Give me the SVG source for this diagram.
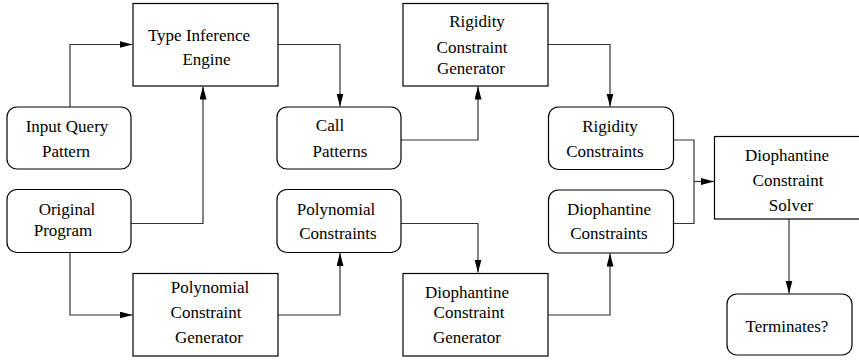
<svg xmlns="http://www.w3.org/2000/svg" width="859" height="360" viewBox="0 0 859 360" font-family="'Liberation Serif', 'DejaVu Serif', serif" font-size="17">
<style>
.box{fill:#fff;stroke:#000;stroke-width:1.2}
.c{fill:none;stroke:#333;stroke-width:1.2}
.t{font-family:'Liberation Serif','DejaVu Serif',serif;font-size:17px;fill:#000;text-anchor:middle}
</style>
<defs>
<marker id="ah" markerUnits="userSpaceOnUse" markerWidth="14" markerHeight="8" refX="13" refY="3.5" orient="auto">
<path d="M0,0 L13,3.5 L0,7 z" fill="#000"/>
</marker>
</defs>
<rect width="859" height="360" fill="#fff"/>
<g id="connectors">
<path class="c" d="M70,107 V44.5 H132.5" marker-end="url(#ah)"/>
<path class="c" d="M131,223.5 H203 V86.5" marker-end="url(#ah)"/>
<path class="c" d="M70,253 V315 H132.5" marker-end="url(#ah)"/>
<path class="c" d="M278,44.5 H340 V106.5" marker-end="url(#ah)"/>
<path class="c" d="M401,140 H478 V86.5" marker-end="url(#ah)"/>
<path class="c" d="M278,315 H340 V253" marker-end="url(#ah)"/>
<path class="c" d="M401,223.5 H478 V272.5" marker-end="url(#ah)"/>
<path class="c" d="M548,44.5 H610 V106.5" marker-end="url(#ah)"/>
<path class="c" d="M548,315 H610 V253.5" marker-end="url(#ah)"/>
<path class="c" d="M673.5,140 H694 V223.5 H673.5"/>
<path class="c" d="M694,181.5 H714" marker-end="url(#ah)"/>
<path class="c" d="M789,219 V293.5" marker-end="url(#ah)"/>
</g>
<g id="type-inference-engine">
<rect class="box" x="133" y="3.5" width="145" height="82.5"/>
<text class="t" x="199" y="41">Type Inference</text>
<text class="t" x="206.5" y="65">Engine</text>
</g>
<g id="rigidity-constraint-generator">
<rect class="box" x="403" y="3.5" width="145" height="82.5"/>
<text class="t" x="477" y="27">Rigidity</text>
<text class="t" x="472" y="53">Constraint</text>
<text class="t" x="471" y="74">Generator</text>
</g>
<g id="polynomial-constraint-generator">
<rect class="box" x="133" y="273.5" width="145" height="82.5"/>
<text class="t" x="210" y="293">Polynomial</text>
<text class="t" x="206" y="318">Constraint</text>
<text class="t" x="209" y="343">Generator</text>
</g>
<g id="diophantine-constraint-generator">
<rect class="box" x="403" y="273.5" width="145" height="82.5"/>
<text class="t" x="467" y="298">Diophantine</text>
<text class="t" x="469" y="318">Constraint</text>
<text class="t" x="467" y="343">Generator</text>
</g>
<g id="diophantine-constraint-solver">
<rect class="box" x="714.5" y="136.5" width="146" height="82.5"/>
<text class="t" x="787" y="161">Diophantine</text>
<text class="t" x="788" y="186">Constraint</text>
<text class="t" x="791" y="211">Solver</text>
</g>
<g id="input-query-pattern">
<rect class="box" x="7" y="107" width="124" height="62" rx="10"/>
<text class="t" x="67" y="132">Input Query</text>
<text class="t" x="66" y="156.5">Pattern</text>
</g>
<g id="original-program">
<rect class="box" x="7" y="189.5" width="124" height="63" rx="10"/>
<text class="t" x="67" y="215">Original</text>
<text class="t" x="63" y="236">Program</text>
</g>
<g id="call-patterns">
<rect class="box" x="277" y="107" width="124" height="62" rx="10"/>
<text class="t" x="330" y="131">Call</text>
<text class="t" x="340" y="156.5">Patterns</text>
</g>
<g id="polynomial-constraints">
<rect class="box" x="277" y="189.5" width="124" height="63" rx="10"/>
<text class="t" x="336" y="215">Polynomial</text>
<text class="t" x="338" y="239">Constraints</text>
</g>
<g id="rigidity-constraints">
<rect class="box" x="548.5" y="107" width="125" height="62.5" rx="10"/>
<text class="t" x="610" y="132">Rigidity</text>
<text class="t" x="605" y="156.5">Constraints</text>
</g>
<g id="diophantine-constraints">
<rect class="box" x="548.5" y="190" width="125" height="63" rx="10"/>
<text class="t" x="609" y="215">Diophantine</text>
<text class="t" x="609" y="239">Constraints</text>
</g>
<g id="terminates">
<rect class="box" x="727" y="294" width="125" height="61" rx="10"/>
<text class="t" x="787" y="331.5">Terminates?</text>
</g>
</svg>
